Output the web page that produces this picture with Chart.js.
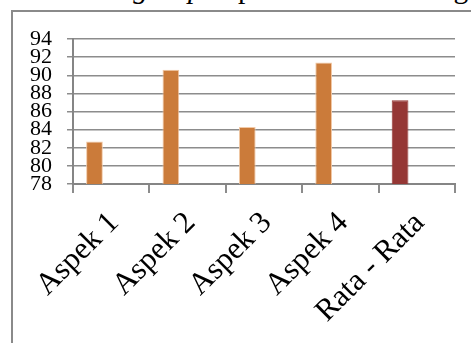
<!DOCTYPE html>
<html>
<head>
<meta charset="utf-8">
<script src="https://cdn.jsdelivr.net/npm/chart.js@4/dist/chart.umd.min.js"></script>
<style>
  html, body { margin: 0; padding: 0; background: #fff; overflow: hidden; }
  body { width: 471px; height: 343px; position: relative; }
  #teks {
    position: absolute; left: -1px; top: -26px;
    font-family: 'Liberation Serif', 'Times New Roman', serif;
    font-size: 29.5px; line-height: 1; white-space: nowrap; color: #000;
  }
  #bingkai {
    position: absolute; left: 11px; top: 10px; width: 480px; height: 360px;
    border-left: 2px solid #8a8a8a; border-top: 2px solid #8a8a8a;
  }
  #wadah { position: absolute; left: 0; top: 0; width: 471px; height: 343px; }
</style>
</head>
<body>
<div id="teks">coba <i>small group</i> dapat dilihat dari diagram</div>
<div id="bingkai"></div>
<div id="wadah"><canvas id="grafik" width="471" height="343"></canvas></div>
<script>
// Nilai rata-rata tiap aspek hasil uji coba kelompok kecil
const kategori = ['Aspek 1', 'Aspek 2', 'Aspek 3', 'Aspek 4', 'Rata - Rata'];
const nilai = [82.7, 90.6, 84.3, 91.4, 87.25];
// Kolom seri lain pada tabel sumber yang kosong
const seriKosong2 = [null, null, null, null, null];
const seriKosong3 = [null, null, null, null, null];
const tickSumbuY = [78, 80, 82, 84, 86, 88, 90, 92, 94];

const warnaBatang = ['#CB7B3A', '#CB7B3A', '#CB7B3A', '#CB7B3A', '#953735'];
const warnaTepi = ['#F2C9A6', '#F2C9A6', '#F2C9A6', '#F2C9A6', '#953735'];
const abu = '#8c8c8c';
const hurufSerif = "'Liberation Serif', 'Times New Roman', serif";

new Chart(document.getElementById('grafik'), {
  type: 'bar',
  data: {
    labels: kategori,
    datasets: [
      { data: nilai, backgroundColor: warnaBatang, borderColor: warnaTepi, borderWidth: 1 },
      { data: seriKosong2 },
      { data: seriKosong3 }
    ]
  },
  options: {
    responsive: false,
    animation: false,
    events: [],
    categoryPercentage: 0.657,
    barPercentage: 1.0,
    layout: { padding: { left: 0, right: 16, top: 39, bottom: 0 } },
    plugins: { legend: { display: false }, tooltip: { enabled: false } },
    scales: {
      x: {
        offset: true,
        grid: { display: true, drawOnChartArea: false, drawTicks: true, tickLength: 9, color: abu, lineWidth: 2, offset: true },
        border: { display: true, color: '#858585', width: 2 },
        ticks: {
          color: '#000', font: { family: hurufSerif, size: 31 },
          minRotation: 45, maxRotation: 45, padding: 12, labelOffset: 3, autoSkip: false
        },
        afterFit: (s) => { s.height = 159; }
      },
      y: {
        min: tickSumbuY[0], max: tickSumbuY[tickSumbuY.length - 1],
        afterBuildTicks: (s) => { s.ticks = tickSumbuY.map(v => ({ value: v })); },
        grid: { color: abu, lineWidth: 1.5, tickLength: 6, drawTicks: true },
        border: { display: true, color: '#858585', width: 2 },
        ticks: { color: '#000', font: { family: hurufSerif, size: 22, lineHeight: 1 }, padding: 15, autoSkip: false },
        afterFit: (s) => { s.width = 73; }
      }
    }
  }
});
</script>
</body>
</html>
